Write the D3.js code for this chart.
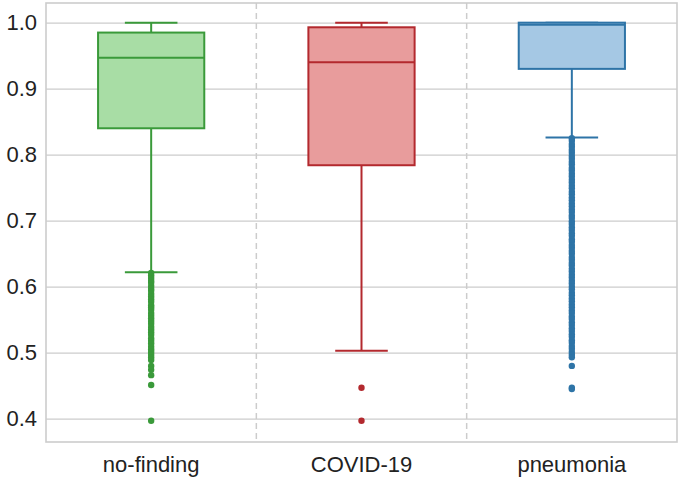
<!DOCTYPE html>
<html>
<head>
<meta charset="utf-8">
<script src="https://cdn.jsdelivr.net/npm/d3@7"></script>
<style>
  html, body { margin: 0; padding: 0; background: #ffffff; }
  svg { display: block; }
  text { font-family: "Liberation Sans", Arial, sans-serif; }
</style>
</head>
<body>
<svg id="chart" width="680" height="479"></svg>
<script>
// ---- data ----
const categories = ["no-finding", "COVID-19", "pneumonia"];
const whiskerLow  = [0.622, 0.503, 0.826];
const q1          = [0.840, 0.784, 0.930];
const median      = [0.947, 0.940, 0.997];
const q3          = [0.985, 0.993, 1.000];
const whiskerHigh = [1.000, 1.000, 1.000];
const outliersNoFinding = [0.621, 0.617, 0.613, 0.609, 0.606, 0.601, 0.597, 0.594, 0.589, 0.585,
  0.581, 0.577, 0.572, 0.569, 0.565, 0.560, 0.556, 0.552, 0.548, 0.544, 0.539, 0.535, 0.531,
  0.527, 0.522, 0.518, 0.514, 0.509, 0.505, 0.501, 0.497, 0.493, 0.489, 0.480, 0.474, 0.466,
  0.451, 0.397];
const outliersCovid = [0.447, 0.397];
const outliersPneumonia = [0.825, 0.821, 0.816, 0.812, 0.807, 0.803, 0.798, 0.794, 0.789, 0.785,
  0.780, 0.776, 0.771, 0.767, 0.762, 0.758, 0.753, 0.749, 0.744, 0.740, 0.735, 0.731, 0.726,
  0.722, 0.717, 0.713, 0.708, 0.704, 0.699, 0.695, 0.690, 0.686, 0.681, 0.677, 0.672, 0.668,
  0.663, 0.659, 0.654, 0.650, 0.645, 0.641, 0.636, 0.632, 0.627, 0.623, 0.618, 0.614, 0.609,
  0.605, 0.600, 0.596, 0.591, 0.587, 0.582, 0.578, 0.573, 0.569, 0.564, 0.560, 0.555, 0.551,
  0.546, 0.542, 0.537, 0.533, 0.528, 0.524, 0.519, 0.515, 0.510, 0.506, 0.501, 0.497, 0.493,
  0.480, 0.447, 0.445];
const outliers = [outliersNoFinding, outliersCovid, outliersPneumonia];
const yTicks = [0.4, 0.5, 0.6, 0.7, 0.8, 0.9, 1.0];
const fillColors   = ["#a8dda5", "#e89c9c", "#a5c8e4"];
const strokeColors = ["#3a9a3a", "#b3292e", "#2e74a7"];

// ---- layout ----
const plotLeft = 46, plotRight = 677, plotTop = 3, plotBottom = 442;
const svg = d3.select("#chart");

const x = d3.scaleBand().domain(categories).range([plotLeft, plotRight]).padding(0);
const y = d3.scaleLinear().domain([0.3647, 1.0298]).range([plotBottom, plotTop]);

// horizontal grid
svg.append("g")
  .attr("transform", `translate(${plotLeft},0)`)
  .call(d3.axisLeft(y).tickValues(yTicks).tickSize(-(plotRight - plotLeft)).tickFormat(""))
  .call(g => g.select(".domain").remove())
  .call(g => g.selectAll("line").attr("stroke", "#cccccc").attr("stroke-width", 1.3));

// dashed category dividers
svg.append("g").selectAll("line")
  .data(categories.slice(1))
  .join("line")
  .attr("x1", d => x(d)).attr("x2", d => x(d))
  .attr("y1", plotTop).attr("y2", plotBottom)
  .attr("stroke", "#cccccc").attr("stroke-width", 1.5)
  .attr("stroke-dasharray", "6,4");

// y tick labels
svg.append("g")
  .attr("transform", `translate(${plotLeft},0)`)
  .call(d3.axisLeft(y).tickValues(yTicks).tickSize(0).tickPadding(9).tickFormat(d3.format(".1f")))
  .call(g => g.select(".domain").remove())
  .call(g => g.selectAll("text").attr("fill", "#222222").style("font-size", "22px")
    .style("font-family", "'Liberation Sans', Arial, sans-serif"));

// x tick labels
svg.append("g")
  .attr("transform", `translate(0,${plotBottom})`)
  .call(d3.axisBottom(x).tickSize(0).tickPadding(14))
  .call(g => g.select(".domain").remove())
  .call(g => g.selectAll("text").attr("fill", "#222222").style("font-size", "22px")
    .style("font-family", "'Liberation Sans', Arial, sans-serif"));

// boxes
const bw = x.bandwidth();
const boxW = bw * 0.505;
const capW = bw * 0.25;
const boxes = svg.append("g").selectAll("g")
  .data(categories.map((c, i) => ({ c, i })))
  .join("g");

boxes.each(function({ c, i }) {
  const g = d3.select(this);
  const cx = x(c) + bw / 2;
  const col = strokeColors[i];
  g.append("line").attr("x1", cx).attr("x2", cx)
    .attr("y1", y(whiskerLow[i])).attr("y2", y(q1[i]))
    .attr("stroke", col).attr("stroke-width", 2);
  g.append("line").attr("x1", cx).attr("x2", cx)
    .attr("y1", y(whiskerHigh[i])).attr("y2", y(q3[i]))
    .attr("stroke", col).attr("stroke-width", 2);
  [whiskerLow[i], whiskerHigh[i]].forEach(v => {
    g.append("line").attr("x1", cx - capW / 2).attr("x2", cx + capW / 2)
      .attr("y1", y(v)).attr("y2", y(v))
      .attr("stroke", col).attr("stroke-width", 2);
  });
  g.append("rect")
    .attr("x", cx - boxW / 2).attr("width", boxW)
    .attr("y", y(q3[i])).attr("height", y(q1[i]) - y(q3[i]))
    .attr("fill", fillColors[i]).attr("stroke", col).attr("stroke-width", 2);
  g.append("line").attr("x1", cx - boxW / 2).attr("x2", cx + boxW / 2)
    .attr("y1", y(median[i])).attr("y2", y(median[i]))
    .attr("stroke", col).attr("stroke-width", 2);
  g.append("g").selectAll("circle")
    .data(outliers[i])
    .join("circle")
    .attr("cx", cx).attr("cy", d => y(d)).attr("r", 3.2)
    .attr("fill", col);
});

// frame
svg.append("rect")
  .attr("x", plotLeft).attr("y", plotTop)
  .attr("width", plotRight - plotLeft).attr("height", plotBottom - plotTop)
  .attr("fill", "none").attr("stroke", "#cccccc").attr("stroke-width", 1.6);
</script>
</body>
</html>
